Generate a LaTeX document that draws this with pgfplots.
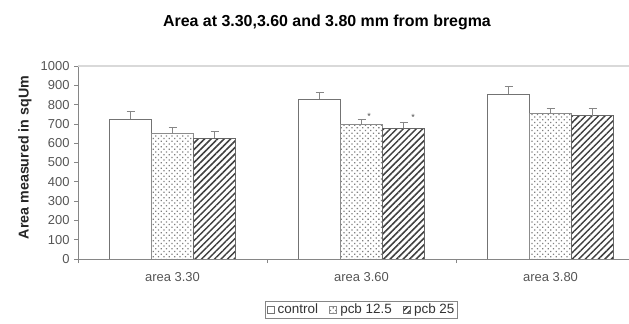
\documentclass[border=0pt]{standalone}
\usepackage{pgfplots}
\pgfplotsset{compat=1.18}
\usepackage{fontspec}
\setmainfont{Liberation Sans}
\usetikzlibrary{patterns.meta}
\definecolor{axgray}{RGB}{134,134,134}
\definecolor{lblgray}{RGB}{85,85,85}
\begin{document}
\begin{tikzpicture}
\begin{axis}[
  name=ax,
  at={(78bp,65bp)}, anchor=south west,
  scale only axis, width=551bp, height=193bp,
  ybar=0pt, bar width=42bp,
  xmin=-0.5, xmax=2.415, ymin=0, ymax=1000,
  ytick={0,100,...,1000},
  xtick={-0.5,0.5,1.5}, xticklabels={},
  extra x ticks={0,1,2}, extra x tick labels={area 3.30, area 3.60, area 3.80},
  extra x tick style={major tick length=0pt},
  axis x line*=bottom, axis y line*=left,
  axis line style={axgray, line width=0.8bp},
  tick style={axgray, line width=0.6bp},
  tick align=outside, major tick length=4bp,
  ticklabel style={font=\fontsize{13}{15}\selectfont, text=lblgray},
  xticklabel style={yshift=-10bp},
  yticklabel style={xshift=-1bp},
  /pgf/number format/assume math mode=true,
  /pgf/number format/1000 sep={},
  legend columns=3,
  legend style={at={(axis description cs:0.5145,-0.2617)}, anchor=center,
    draw=axgray, font=\fontsize{13.5}{14}\selectfont, text=black!80,
    inner sep=1bp, row sep=0pt,
    /tikz/every odd column/.append style={column sep=1.5bp},
    /tikz/every even column/.append style={column sep=9bp}},
  legend image code/.code={\draw[#1, line width=0.7bp] (0bp,-3.5bp) rectangle (7bp,3.5bp);},
  error bars/y dir=plus, error bars/y explicit,
  error bars/error bar style={axgray, line width=0.9bp},
  error bars/error mark options={rotate=90, mark size=4bp, axgray, line width=0.9bp},
]
\addplot[draw=black!55, fill=white, line width=0.8bp]
  coordinates {(0,725) +- (0,42) (1,828) +- (0,37) (2,854) +- (0,40)};
\addplot[draw=black!45, line width=0.8bp, pattern={Dots[radius=0.9bp, distance=3.8bp, angle=45]}, pattern color=black!50]
  coordinates {(0,651) +- (0,31) (1,698) +- (0,26) (2,754) +- (0,27)};
\addplot[draw=black!60, line width=0.8bp, pattern={Lines[angle=45, distance=4.6bp, line width=1.5bp]}, pattern color=black!75]
  coordinates {(0,625) +- (0,38) (1,677) +- (0,33) (2,742) +- (0,36)};
\legend{control, pcb 12.5, pcb 25}
\node[font=\fontsize{9}{9}\selectfont, text=black!70, inner sep=0pt, xshift=7.5bp] at (axis cs:1,741) {*};
\node[font=\fontsize{9}{9}\selectfont, text=black!70, inner sep=0pt, xshift=51.5bp] at (axis cs:1,736) {*};
\end{axis}
\draw[black!15, line width=1.6bp] (ax.north west) -- (ax.north east);
\node[font=\bfseries\fontsize{16}{18}\selectfont] at (327bp,301.5bp) {Area at 3.30,3.60 and 3.80 mm from bregma};
\node[rotate=90, font=\bfseries\fontsize{14.3}{16}\selectfont, text=black!85] at (25bp,166.5bp) {Area measured in sqUm};
\pgfresetboundingbox
\useasboundingbox (0,0) rectangle (629bp,324bp);
\end{tikzpicture}
\end{document}
